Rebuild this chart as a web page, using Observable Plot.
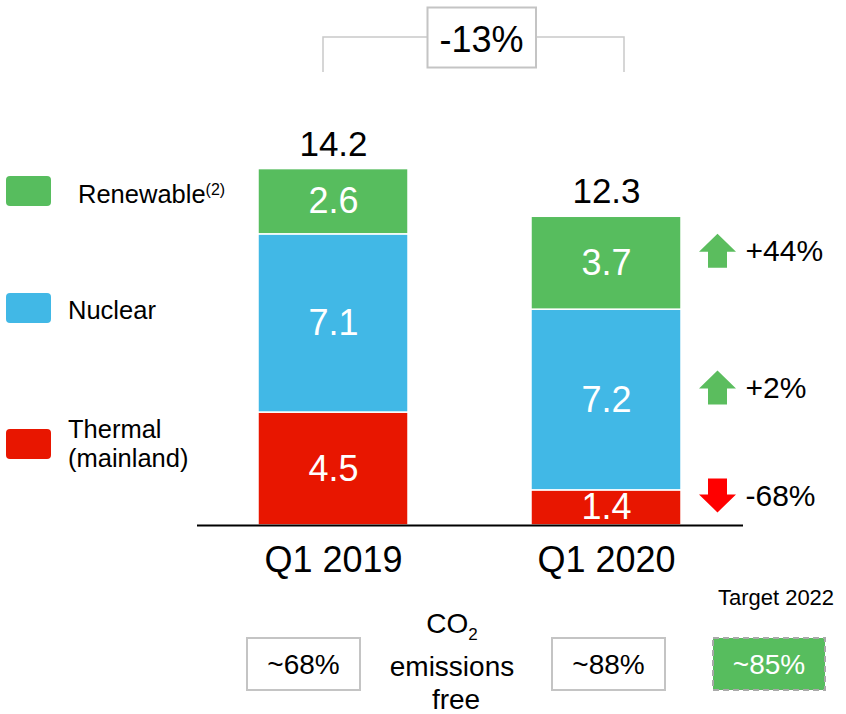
<!DOCTYPE html>
<html>
<head>
<meta charset="utf-8">
<script src="https://cdn.jsdelivr.net/npm/d3@7"></script>
<script src="https://cdn.jsdelivr.net/npm/@observablehq/plot@0.6"></script>
<style>
  html, body { margin: 0; padding: 0; background: #fff; }
  #chart svg { display: block; }
</style>
</head>
<body>
<div id="chart"></div>
<script>
// ---- data ----
const periods = ["Q1 2019", "Q1 2020"];
const sources = ["Thermal", "Nuclear", "Renewable"];   // stacking order, bottom to top
const thermal = [4.5, 1.4];
const nuclear = [7.1, 7.2];
const renewable = [2.6, 3.7];
const totals = [14.2, 12.3];
const changes = ["-68%", "+2%", "+44%"];              // Q1 2020 vs Q1 2019, per source
const changeDir = ["down", "up", "up"];
const totalChange = "-13%";
const co2Free = ["~68%", "~88%"];
const targetValue = "~85%";
const targetLabel = "Target 2022";
const legendLabels = ["Renewable", "Nuclear", "Thermal", "(mainland)"];

// ---- table built from the arrays ----
const series = [thermal, nuclear, renewable];
const rows = [];
periods.forEach((p, i) => {
  let base = 0;
  sources.forEach((s, j) => {
    const v = series[j][i];
    rows.push({period: p, source: s, value: v, y1: base, y2: base + v, mid: base + v / 2});
    base += v;
  });
});
const totalRows = periods.map((p, i) => ({period: p, total: totals[i]}));

const FONT = '"Liberation Sans", Arial, Helvetica, sans-serif';
const colorRange = ["#E81600", "#41B8E6", "#57BD5E"];

const plot = Plot.plot({
  width: 846,
  height: 714,
  marginLeft: 197,
  marginRight: 103,
  marginTop: 23,
  marginBottom: 189,
  style: {fontFamily: FONT, background: "#fff", color: "#000", overflow: "visible"},
  x: {domain: periods, paddingInner: 0.45, paddingOuter: 0.224, axis: null},
  y: {domain: [0, 20], axis: null},
  color: {domain: sources, range: colorRange},
  marks: [
    Plot.barY(rows, {x: "period", y1: "y1", y2: "y2", fill: "source", stroke: "#fff", strokeWidth: 1.5, inset: 0}),
    Plot.text(rows, {x: "period", y: "mid", text: d => d.value.toFixed(1), fill: "#fff", fontSize: 36, lineAnchor: "middle"}),
    Plot.text(totalRows, {x: "period", y: "total", text: d => d.total.toFixed(1), fill: "#000", fontSize: 35, lineAnchor: "middle", dy: -24.5}),
    Plot.ruleY([0], {stroke: "#000", strokeWidth: 2}),
    Plot.axisX({tickSize: 0, tickPadding: 21, fontSize: 36, fill: "#000", label: null})
  ]
});
document.getElementById("chart").appendChild(plot);

// ---- annotations layered on the same SVG ----
const xs = plot.scale("x");
const ys = plot.scale("y");
const bw = xs.bandwidth;
const svg = d3.select(plot);
const ann = svg.append("g").attr("font-family", FONT).attr("text-anchor", "start");

// bracket with total change
ann.append("path")
  .attr("d", "M323,72V37H427M536,37H624V72")
  .attr("fill", "none").attr("stroke", "#c9c9c9").attr("stroke-width", 1.5);
ann.append("rect").attr("x", 427.5).attr("y", 7.5).attr("width", 108.5).attr("height", 60)
  .attr("fill", "#fff").attr("stroke", "#c4c4c4").attr("stroke-width", 2);
ann.append("text").attr("x", 481.5).attr("y", 51.5).attr("text-anchor", "middle")
  .attr("font-size", 36).attr("fill", "#000").text(totalChange);

// legend
const legendItems = [
  {color: colorRange[2], top: 176, lines: [legendLabels[0]], x: 78, base: 203, sup: "(2)"},
  {color: colorRange[1], top: 293, lines: [legendLabels[1]], x: 68, base: 319},
  {color: colorRange[0], top: 429, lines: [legendLabels[2], legendLabels[3]], x: 68, base: 438}
];
legendItems.forEach(it => {
  ann.append("rect").attr("x", 6).attr("y", it.top).attr("width", 45).attr("height", 30)
    .attr("rx", 4).attr("fill", it.color);
  it.lines.forEach((ln, k) => {
    const t = ann.append("text").attr("x", it.x).attr("y", it.base + k * 28.5)
      .attr("text-anchor", "start").attr("font-size", 25.5).attr("fill", "#000").text(ln);
    if (it.sup && k === 0) {
      t.append("tspan").attr("font-size", 16).attr("dy", -8).text(it.sup);
    }
  });
});

// change arrows next to Q1 2020
const x2 = xs.apply(periods[1]) + bw;
const q2 = rows.filter(r => r.period === periods[1]);
const green = "#5BBD5E", red = "#FF0000";
q2.forEach((r, j) => {
  const cy = ys.apply(r.mid) - 12;
  const cx = x2 + 36.5;
  const up = changeDir[j] === "up";
  const s = up ? 1 : -1;
  const pts = [
    [cx, cy - 17 * s], [cx + 18.5, cy + 1 * s], [cx + 9.5, cy + 1 * s], [cx + 9.5, cy + 17 * s],
    [cx - 9.5, cy + 17 * s], [cx - 9.5, cy + 1 * s], [cx - 18.5, cy + 1 * s]
  ];
  ann.append("polygon").attr("points", pts.map(p => p.join(",")).join(" "))
    .attr("fill", up ? green : red);
  ann.append("text").attr("x", x2 + 64.5).attr("y", cy + 10.5)
    .attr("text-anchor", "start").attr("font-size", 30).attr("fill", "#000").text(changes[j]);
});

// CO2 emission-free row
const boxTop = 638, boxH = 52;
const boxes = [
  {x: 247, w: 113, text: co2Free[0], fill: "#fff", stroke: "#c4c4c4", color: "#000", dash: null},
  {x: 552, w: 113, text: co2Free[1], fill: "#fff", stroke: "#c4c4c4", color: "#000", dash: null},
  {x: 713, w: 112, text: targetValue, fill: "#57BD5E", stroke: "#a9a9a9", color: "#fff", dash: "6,4"}
];
boxes.forEach(b => {
  const r = ann.append("rect").attr("x", b.x).attr("y", boxTop).attr("width", b.w).attr("height", boxH)
    .attr("fill", b.fill).attr("stroke", b.stroke).attr("stroke-width", 2);
  if (b.dash) r.attr("stroke-dasharray", b.dash);
  ann.append("text").attr("x", b.x + b.w / 2).attr("y", boxTop + boxH / 2 + 10)
    .attr("text-anchor", "middle").attr("font-size", 28).attr("fill", b.color).text(b.text);
});
ann.append("text").attr("x", 776).attr("y", 605).attr("text-anchor", "middle")
  .attr("font-size", 22).attr("fill", "#000").text(targetLabel);

const co2 = ann.append("text").attr("x", 452).attr("y", 633).attr("text-anchor", "middle")
  .attr("font-size", 28).attr("fill", "#000");
co2.append("tspan").text("CO");
co2.append("tspan").attr("font-size", 17).attr("dy", 7).text("2");
ann.append("text").attr("x", 452).attr("y", 676).attr("text-anchor", "middle")
  .attr("font-size", 28).attr("fill", "#000").text("emissions");
ann.append("text").attr("x", 456).attr("y", 709).attr("text-anchor", "middle")
  .attr("font-size", 28).attr("fill", "#000").text("free");
</script>
</body>
</html>
